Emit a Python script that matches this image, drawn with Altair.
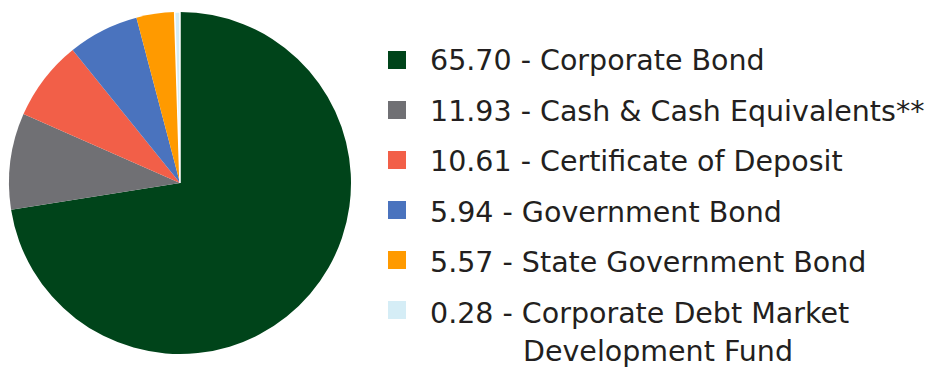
import altair as alt
import pandas as pd

categories = ["Corporate Bond", "Cash & Cash Equivalents**", "Certificate of Deposit",
              "Government Bond", "State Government Bond", "Corporate Debt Market"]
# values printed in the legend
value_labels = ["65.70", "11.93", "10.61", "5.94", "5.57", "0.28"]
# slice shares as drawn in the pie
slice_shares = [72.5, 9.1, 7.6, 6.7, 3.6, 0.5]
second_lines = ["", "", "", "", "", "Development Fund"]
colors = ["#00441a", "#707074", "#f25f48", "#4a73be", "#ff9a00", "#d5edf6"]

df = pd.DataFrame({
    "cat": categories,
    "share": slice_shares,
    "idx": list(range(len(categories))),
    "label": [f"{v} - {c}" for v, c in zip(value_labels, categories)],
    "line2": second_lines,
})

color = alt.Color("cat:N", scale=alt.Scale(domain=categories, range=colors), legend=None)

pie = alt.Chart(df).mark_arc(radius=171, stroke="white").encode(
    theta=alt.Theta("share:Q", stack=True),
    order=alt.Order("idx:Q"),
    color=color,
    strokeWidth=alt.condition("datum.cat == 'Corporate Debt Market'", alt.value(1.5), alt.value(0)),
    x=alt.value(180),
    y=alt.value(183),
)

sq_scale = alt.Scale(domain=categories, range=[60, 310], type="point", padding=0)
tx_scale = alt.Scale(domain=categories, range=[61, 314], type="point", padding=0)

squares = alt.Chart(df).mark_square(size=324, opacity=1).encode(
    x=alt.value(397),
    y=alt.Y("cat:N", scale=sq_scale, axis=None),
    color=color,
)

FONT = "DejaVu Sans"
FS = 28.5
TXT = "#231f20"

texts = alt.Chart(df).mark_text(
    align="left", baseline="middle", font=FONT, fontSize=FS, color=TXT
).encode(
    x=alt.value(430),
    y=alt.Y("cat:N", scale=tx_scale, axis=None),
    text="label:N",
)

texts2 = alt.Chart(df).transform_filter("datum.line2 != ''").mark_text(
    align="left", baseline="middle", font=FONT, fontSize=FS, color=TXT, dy=38
).encode(
    x=alt.value(523),
    y=alt.Y("cat:N", scale=tx_scale, axis=None),
    text="line2:N",
)

chart = alt.layer(pie, squares, alt.layer(texts, texts2)).resolve_scale(y="independent").properties(
    width=935, height=376, padding=0, autosize=alt.AutoSizeParams(type="none")
).configure_view(stroke=None)

chart.save("out.html", embed_options={"renderer": "svg", "actions": False})
